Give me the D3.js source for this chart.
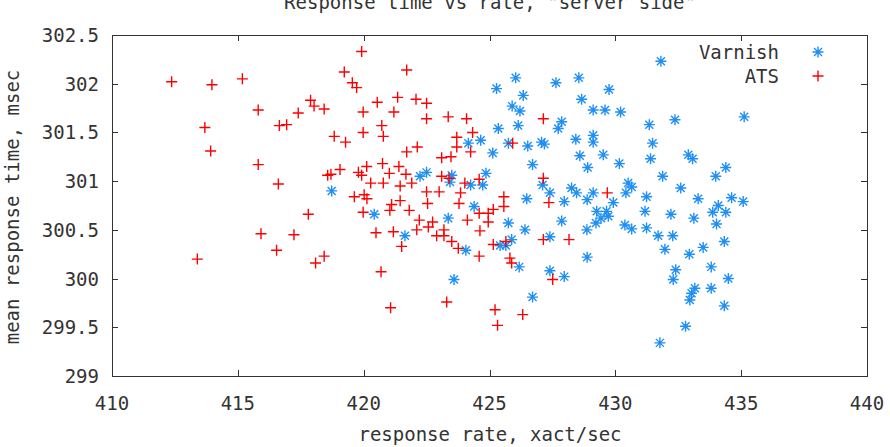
<!DOCTYPE html>
<html>
<head>
<meta charset="utf-8">
<script src="https://cdn.jsdelivr.net/npm/d3@7"></script>
<style>
  body { margin: 0; background: #fff; }
  svg { display: block; }
  text { font-family: "DejaVu Sans Mono", "Liberation Mono", monospace; font-size: 19px; fill: #333; }
</style>
</head>
<body>
<div id="plot"></div>
<script>
// response rate (xact/sec) and mean response time (msec)
const varnishRate = [418.73, 420.42, 431.81, 426.04, 427.64, 428.55, 425.28, 429.75, 426.34, 428.66,
  425.90, 426.21, 429.12, 429.59, 430.21, 427.87, 427.73, 432.37, 431.35, 425.35,
  426.14, 424.65, 424.16, 425.75, 427.07, 427.18, 426.52, 428.43, 429.12, 429.12,
  431.48, 425.13, 428.59, 429.52, 426.71, 428.90, 430.16, 431.40, 431.88, 422.50,
  422.24, 423.50, 423.43, 424.86, 424.25, 424.73, 427.11, 427.40, 428.26, 428.46,
  429.12, 430.51, 430.65, 430.42, 431.24, 426.48, 432.60, 427.97, 428.88, 429.92,
  424.39, 429.26, 429.65, 431.18, 432.21, 423.36, 427.87, 425.75, 429.23, 429.72,
  426.41, 428.87, 430.38, 430.65, 431.24, 431.70, 432.28, 421.64, 425.88, 425.65,
  425.42, 427.40, 424.06, 431.97, 428.88, 426.18, 427.40, 427.97, 432.40, 432.30,
  423.59, 426.71, 431.77, 435.12, 432.90, 433.07, 434.39, 433.99, 433.29, 434.62,
  435.08, 434.09, 433.87, 434.39, 433.12, 434.02, 434.33, 433.49, 432.94, 433.81,
  434.49, 433.16, 433.03, 432.96, 433.81, 434.33, 432.79, 429.43];
const varnishTime = [300.90, 300.66, 302.23, 302.06, 302.01, 302.06, 301.95, 301.94, 301.88, 301.84,
  301.77, 301.72, 301.73, 301.73, 301.71, 301.61, 301.54, 301.63, 301.58, 301.54,
  301.57, 301.42, 301.39, 301.39, 301.40, 301.38, 301.36, 301.43, 301.47, 301.40,
  301.39, 301.29, 301.26, 301.27, 301.17, 301.14, 301.18, 301.23, 301.05, 301.09,
  301.05, 301.06, 300.99, 301.08, 300.96, 300.96, 300.96, 300.88, 300.93, 300.88,
  300.88, 300.98, 300.94, 300.88, 300.84, 300.82, 300.93, 300.79, 300.81, 300.78,
  300.74, 300.69, 300.69, 300.69, 300.66, 300.62, 300.59, 300.57, 300.57, 300.64,
  300.50, 300.50, 300.55, 300.51, 300.52, 300.44, 300.44, 300.44, 300.40, 300.34,
  300.34, 300.43, 300.29, 300.30, 300.22, 300.12, 300.08, 300.02, 300.09, 299.99,
  299.99, 299.81, 299.34, 301.66, 301.27, 301.23, 301.14, 301.05, 300.82, 300.83,
  300.79, 300.75, 300.68, 300.68, 300.62, 300.56, 300.38, 300.32, 300.25, 300.12,
  300.00, 299.90, 299.85, 299.78, 299.90, 299.72, 299.51, 300.62];

const atsRate = [419.92, 419.23, 419.55, 419.72, 412.37, 413.97, 415.18, 417.89, 418.03, 418.43,
  417.40, 415.81, 419.98, 420.54, 421.35, 421.20, 413.69, 416.65, 416.94, 420.72,
  419.98, 413.92, 418.83, 419.28, 420.78, 415.81, 416.61, 418.57, 418.70, 419.06,
  419.79, 419.92, 420.12, 420.75, 421.02, 421.40, 420.28, 420.78, 419.63, 420.02,
  420.13, 421.45, 421.45, 421.11, 421.04, 419.98, 417.80, 415.92, 417.23, 420.49,
  421.18, 416.54, 418.43, 418.09, 413.39, 420.69, 421.07, 421.71, 422.08, 422.50,
  422.50, 423.36, 424.09, 424.33, 427.14, 423.70, 423.70, 422.13, 421.71, 424.25,
  425.92, 423.10, 423.47, 421.68, 421.91, 423.10, 423.39, 424.02, 424.59, 427.14,
  422.50, 423.00, 423.85, 425.57, 429.68, 421.81, 422.54, 423.79, 425.57, 427.36,
  424.59, 424.95, 425.15, 424.95, 422.21, 422.74, 422.57, 424.12, 422.11, 423.19,
  424.62, 422.90, 423.19, 423.50, 423.76, 421.51, 425.15, 425.65, 427.14, 428.16,
  424.59, 425.81, 425.88, 427.51, 423.30, 425.22, 426.32, 425.32];
const atsTime = [302.33, 302.12, 302.01, 301.96, 302.02, 301.99, 302.05, 301.83, 301.77, 301.74,
  301.70, 301.73, 301.71, 301.81, 301.86, 301.71, 301.55, 301.57, 301.58, 301.57,
  301.50, 301.31, 301.46, 301.40, 301.46, 301.17, 300.97, 301.06, 301.07, 301.12,
  301.09, 301.06, 301.15, 301.18, 301.08, 301.15, 300.98, 300.98, 300.84, 300.86,
  300.82, 300.95, 300.80, 300.76, 300.70, 300.68, 300.66, 300.46, 300.45, 300.47,
  300.48, 300.29, 300.23, 300.16, 300.20, 300.07, 299.70, 302.14, 301.84, 301.80,
  301.64, 301.66, 301.64, 301.50, 301.64, 301.45, 301.35, 301.35, 301.30, 301.30,
  301.39, 301.24, 301.25, 301.07, 300.98, 301.05, 301.03, 300.98, 301.02, 301.03,
  300.89, 300.89, 300.88, 300.84, 300.88, 300.70, 300.77, 300.77, 300.74, 300.78,
  300.67, 300.67, 300.71, 300.58, 300.60, 300.58, 300.53, 300.60, 300.50, 300.50,
  300.49, 300.44, 300.44, 300.38, 300.31, 300.33, 300.35, 300.38, 300.40, 300.40,
  300.23, 300.21, 300.16, 299.99, 299.76, 299.68, 299.63, 299.52];

const xTicks = [410, 415, 420, 425, 430, 435, 440];
const yTicks = [299, 299.5, 300, 300.5, 301, 301.5, 302, 302.5];
const seriesNames = ["Varnish", "ATS"];

const width = 890, height = 447;
const margin = { top: 35, right: 23, bottom: 71, left: 112 };

const svg = d3.select("#plot").append("svg")
  .attr("width", width)
  .attr("height", height);

const xScale = d3.scaleLinear()
  .domain([410, 440])
  .range([margin.left, width - margin.right]);

const yScale = d3.scaleLinear()
  .domain([299, 302.5])
  .range([height - margin.bottom, margin.top]);

const colors = { Varnish: "#1e8ff5", ATS: "#ff0000" };

// gnuplot style marks
const plusPath = "M-5.5,0H5.5M0,-5.5V5.5";
const starPath = "M-5.5,0H5.5M0,-5.5V5.5M-4,-4L4,4M-4,4L4,-4";

// ticks on all four sides, pointing in
const tickLen = 6;
const ticks = svg.append("g").attr("stroke", "#333").attr("stroke-width", 1);
xTicks.forEach(t => {
  const x = Math.round(xScale(t)) + 0.5;
  ticks.append("line").attr("x1", x).attr("x2", x)
    .attr("y1", yScale(299)).attr("y2", yScale(299) - tickLen);
  ticks.append("line").attr("x1", x).attr("x2", x)
    .attr("y1", yScale(302.5)).attr("y2", yScale(302.5) + tickLen);
});
yTicks.forEach(t => {
  const y = Math.round(yScale(t)) + 0.5;
  ticks.append("line").attr("y1", y).attr("y2", y)
    .attr("x1", xScale(410)).attr("x2", xScale(410) + tickLen);
  ticks.append("line").attr("y1", y).attr("y2", y)
    .attr("x1", xScale(440)).attr("x2", xScale(440) - tickLen);
});

// tick labels
svg.append("g").selectAll("text")
  .data(xTicks)
  .enter().append("text")
  .attr("x", d => xScale(d))
  .attr("y", yScale(299) + 34)
  .attr("text-anchor", "middle")
  .text(d => d);

svg.append("g").selectAll("text")
  .data(yTicks)
  .enter().append("text")
  .attr("x", xScale(410) - 13)
  .attr("y", d => yScale(d) + 7)
  .attr("text-anchor", "end")
  .text(d => d);

// frame
svg.append("rect")
  .attr("x", xScale(410) + 0.5)
  .attr("y", yScale(302.5) + 0.5)
  .attr("width", xScale(440) - xScale(410))
  .attr("height", yScale(299) - yScale(302.5))
  .attr("fill", "none")
  .attr("stroke", "#333")
  .attr("stroke-width", 1);

// points: Varnish first, ATS on top
const pts = svg.append("g").attr("fill", "none").attr("stroke-width", 1.4);
pts.selectAll(".varnish")
  .data(d3.zip(varnishRate, varnishTime))
  .enter().append("path")
  .attr("class", "varnish")
  .attr("transform", d => `translate(${xScale(d[0])},${yScale(d[1])})`)
  .attr("d", starPath)
  .attr("stroke", colors.Varnish);

pts.selectAll(".ats")
  .data(d3.zip(atsRate, atsTime))
  .enter().append("path")
  .attr("class", "ats")
  .attr("transform", d => `translate(${xScale(d[0])},${yScale(d[1])})`)
  .attr("d", plusPath)
  .attr("stroke", colors.ATS);

// legend
const legend = svg.append("g");
seriesNames.forEach((name, i) => {
  const y = 52 + i * 24;
  legend.append("text")
    .attr("x", 779)
    .attr("y", y + 7)
    .attr("text-anchor", "end")
    .text(name);
  legend.append("path")
    .attr("transform", `translate(818,${y})`)
    .attr("d", name === "ATS" ? plusPath : starPath)
    .attr("fill", "none")
    .attr("stroke", colors[name])
    .attr("stroke-width", 1.4);
});

// titles
svg.append("text")
  .attr("x", 490)
  .attr("y", 9)
  .attr("text-anchor", "middle")
  .text('Response time vs rate, "server side"');

svg.append("text")
  .attr("x", 490)
  .attr("y", 441)
  .attr("text-anchor", "middle")
  .text("response rate, xact/sec");

svg.append("text")
  .attr("transform", "translate(19,207) rotate(-90)")
  .attr("text-anchor", "middle")
  .text("mean response time, msec");
</script>
</body>
</html>
